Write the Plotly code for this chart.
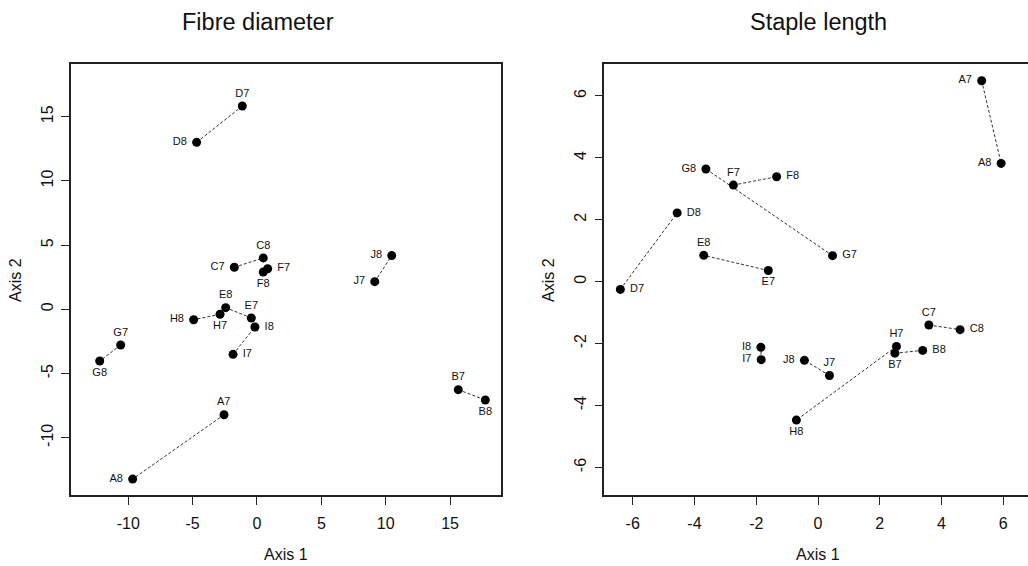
import plotly.graph_objects as go

# ---------------- data ----------------
labels = ["A7", "A8", "B7", "B8", "C7", "C8", "D7", "D8", "E7", "E8",
          "F7", "F8", "G7", "G8", "H7", "H8", "I7", "I8", "J7", "J8"]

fibre_x = [-2.56, -9.66, 15.64, 17.74, -1.76, 0.49, -1.14, -4.69, -0.44, -2.43,
           0.83, 0.49, -10.59, -12.22, -2.87, -4.92, -1.86, -0.16, 9.15, 10.47]
fibre_y = [-8.21, -13.22, -6.26, -7.06, 3.27, 4.00, 15.83, 13.00, -0.68, 0.13,
           3.16, 2.90, -2.78, -4.03, -0.39, -0.81, -3.51, -1.38, 2.15, 4.18]

staple_x = [5.30, 5.93, 2.49, 3.39, 3.59, 4.60, -6.40, -4.56, -1.61, -3.70,
            -2.74, -1.34, 0.47, -3.63, 2.54, -0.70, -1.84, -1.85, 0.37, -0.44]
staple_y = [6.49, 3.82, -2.31, -2.22, -1.40, -1.55, -0.25, 2.22, 0.36, 0.85,
            3.12, 3.39, 0.84, 3.64, -2.09, -4.47, -2.52, -2.12, -3.03, -2.54]

panel_titles = ["Fibre diameter", "Staple length"]
x_title = "Axis 1"
y_title = "Axis 2"

fibre_xticks = [-10, -5, 0, 5, 10, 15]
fibre_yticks = [-10, -5, 0, 5, 10, 15]
staple_xticks = [-6, -4, -2, 0, 2, 4, 6]
staple_yticks = [-6, -4, -2, 0, 2, 4, 6]

# ---------------- label placement (style) ----------------
fibre_pos = {"A7": "top center", "A8": "middle left", "B7": "top center", "B8": "bottom center",
             "C7": "middle left", "C8": "top center", "D7": "top center", "D8": "middle left",
             "E7": "top center", "E8": "top center", "F7": "middle right", "F8": "bottom center",
             "G7": "top center", "G8": "bottom center", "H7": "bottom center", "H8": "middle left",
             "I7": "middle right", "I8": "middle right", "J7": "middle left", "J8": "middle left"}
staple_pos = {"A7": "middle left", "A8": "middle left", "B7": "bottom center", "B8": "middle right",
              "C7": "top center", "C8": "middle right", "D7": "middle right", "D8": "middle right",
              "E7": "bottom center", "E8": "top center", "F7": "top center", "F8": "middle right",
              "G7": "middle right", "G8": "middle left", "H7": "top center", "H8": "bottom center",
              "I7": "middle left", "I8": "middle left", "J7": "top center", "J8": "middle left"}

W, H = 1028, 566
FONT = "Liberation Sans, Arial, Helvetica, sans-serif"

fig = go.Figure()


def add_panel(xs, ys, pos, xa, ya):
    # dashed connectors between year 7 and year 8 of each site
    lx, ly = [], []
    idx = {lab: i for i, lab in enumerate(labels)}
    for site in sorted(set(l[0] for l in labels)):
        a, b = idx[site + "7"], idx[site + "8"]
        lx += [xs[a], xs[b], None]
        ly += [ys[a], ys[b], None]
    fig.add_trace(go.Scatter(x=lx, y=ly, mode="lines", xaxis=xa, yaxis=ya,
                             line=dict(color="#333333", width=1, dash="3px,2px"),
                             hoverinfo="skip", showlegend=False))
    fig.add_trace(go.Scatter(x=xs, y=ys, mode="markers+text", xaxis=xa, yaxis=ya,
                             text=[" " + l + " " for l in labels],
                             textposition=[pos[l] for l in labels],
                             textfont=dict(family=FONT, size=11, color="#111111"),
                             marker=dict(color="black", size=9),
                             showlegend=False))


add_panel(fibre_x, fibre_y, fibre_pos, "x", "y")
add_panel(staple_x, staple_y, staple_pos, "x2", "y2")


def tt(vals):
    return [str(v) for v in vals]  # plain hyphen-minus like the reference


yb, yt = 1 - 495 / H, 1 - 64 / H
axis_common = dict(showgrid=False, zeroline=False, showline=True, linecolor="#222222",
                   linewidth=1.5, ticks="outside", ticklen=8, tickwidth=1.2, tickcolor="#222222",
                   tickfont=dict(family=FONT, size=16, color="#111111"))

fig.update_layout(
    width=W, height=H,
    margin=dict(l=0, r=0, t=0, b=0),
    paper_bgcolor="white", plot_bgcolor="white",
    font=dict(family=FONT),
    xaxis=dict(domain=[71 / W, 501 / W], range=[-14.45, 18.96], tickvals=fibre_xticks,
               ticktext=tt(fibre_xticks), mirror=True, anchor="y", ticklabelstandoff=5,
               **axis_common),
    yaxis=dict(domain=[yb, yt], range=[-14.46, 19.1], tickvals=fibre_yticks,
               ticktext=tt(fibre_yticks), tickangle=-90, ticklabelstandoff=2,
               mirror=True, anchor="x", **axis_common),
    xaxis2=dict(domain=[604.3 / W, 1.0], range=[-6.92, 6.8], tickvals=staple_xticks,
                ticktext=tt(staple_xticks), mirror=True, anchor="y2", ticklabelstandoff=5,
                **axis_common),
    yaxis2=dict(domain=[yb, yt], range=[-6.89, 7.03], tickvals=staple_yticks,
                ticktext=tt(staple_yticks), tickangle=-90, ticklabelstandoff=2,
                mirror=False, anchor="x2", **axis_common),
)

# titles
for cx, t in [(258, panel_titles[0]), (818, panel_titles[1])]:
    fig.add_annotation(x=cx / W, y=1 - 22 / H, xref="paper", yref="paper", text=t,
                       showarrow=False, font=dict(family=FONT, size=23.5, color="#111111"),
                       xanchor="center", yanchor="middle")
for cx in [286, 818]:
    fig.add_annotation(x=cx / W, y=1 - 554 / H, xref="paper", yref="paper", text=x_title,
                       showarrow=False, font=dict(family=FONT, size=16, color="#111111"),
                       xanchor="center", yanchor="middle")
for cx in [15, 548]:
    fig.add_annotation(x=cx / W, y=1 - 280 / H, xref="paper", yref="paper", text=y_title,
                       showarrow=False, textangle=-90,
                       font=dict(family=FONT, size=16, color="#111111"),
                       xanchor="center", yanchor="middle")

fig.write_html("out.html", config={"displayModeBar": False},
               post_script="document.body.style.margin='0';document.body.style.overflow='hidden';")
